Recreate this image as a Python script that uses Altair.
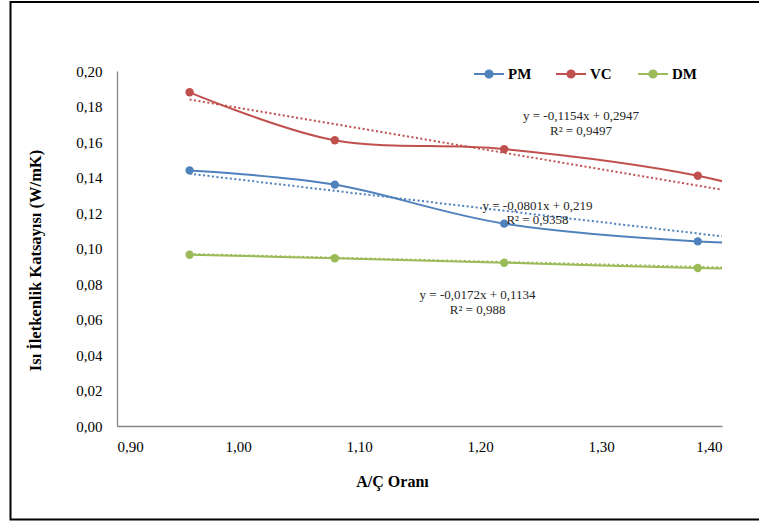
import altair as alt
import pandas as pd

# ---- data ----
series = ["PM", "VC", "DM"]
colors = ["#4F81BD", "#C0504D", "#9BBB59"]
x_values = [0.96, 1.08, 1.22, 1.38, 1.50]
pm_values = [0.144, 0.136, 0.114, 0.104, 0.103]
vc_values = [0.188, 0.161, 0.156, 0.141, 0.118]
dm_values = [0.0965, 0.0945, 0.092, 0.089, 0.0885]

slopes = [-0.0801, -0.1154, -0.0172]
intercepts = [0.219, 0.2947, 0.1134]
trend_x = [0.96, 1.40]

eq_labels = ["y = -0,0801x + 0,219", "y = -0,1154x + 0,2947", "y = -0,0172x + 0,1134"]
r2_labels = ["R² = 0,9358", "R² = 0,9497", "R² = 0,988"]

# annotation placement (data coordinates)
eq_pos_x = [1.2475, 1.2835, 1.198]
eq_pos_y = [0.1239, 0.1746, 0.0738]
r2_pos_y = [0.1161, 0.1662, 0.0654]

y_ticks = [round(i * 0.02, 2) for i in range(11)]
x_ticks = [0.9, 1.0, 1.1, 1.2, 1.3, 1.4]

# ---- tables ----
vals = {"PM": pm_values, "VC": vc_values, "DM": dm_values}
rows = []
for s in series:
    for x, y in zip(x_values, vals[s]):
        rows.append({"x": x, "y": y, "s": s})
df = pd.DataFrame(rows)

trows = []
for s, m, b in zip(series, slopes, intercepts):
    for x in trend_x:
        trows.append({"x": x, "y": m * x + b, "s": s})
tdf = pd.DataFrame(trows)

arows = []
for i in range(3):
    arows.append({"x": eq_pos_x[i], "y": eq_pos_y[i], "t": eq_labels[i]})
    arows.append({"x": eq_pos_x[i], "y": r2_pos_y[i], "t": r2_labels[i]})
adf = pd.DataFrame(arows)

FONT = "Liberation Serif"

xscale = alt.Scale(domain=[0.9, 1.4], nice=False, zero=False)
yscale = alt.Scale(domain=[0, 0.2], nice=False)
cscale = alt.Scale(domain=series, range=colors)

xaxis = alt.Axis(
    values=x_ticks, title="A/Ç Oranı", grid=False, ticks=False,
    labelExpr="replace(format(datum.value, '.2f'), '.', ',')",
    labelFont=FONT, labelFontSize=15, labelColor="#000000", labelPadding=13,
    titleFont=FONT, titleFontSize=16, titleFontWeight="bold", titleColor="#000000",
    titleX=275, titleY=60, titleBaseline="alphabetic", titleAlign="center",
    domainColor="#868686", domainWidth=1.3,
)
yaxis = alt.Axis(
    values=y_ticks, title="Isı İletkenlik Katsayısı (W/mK)", grid=False, ticks=False,
    labelExpr="replace(format(datum.value, '.2f'), '.', ',')",
    labelFont=FONT, labelFontSize=15, labelColor="#000000", labelPadding=15,
    titleFont=FONT, titleFontSize=16.5, titleFontWeight="bold", titleColor="#000000",
    titleAngle=270, titleX=-82, titleY=189, titleAlign="center", titleBaseline="middle",
    domainColor="#868686", domainWidth=1.3,
)

X = alt.X("x:Q", scale=xscale, axis=xaxis)
Y = alt.Y("y:Q", scale=yscale, axis=yaxis)

# line with a solid dot (concentric rings so a stroked symbol looks filled)
symbol_path = (
    "M-1,0H1"
    "M-0.24,0a0.24,0.24 0 1,0 0.48,0a0.24,0.24 0 1,0 -0.48,0"
    "M-0.15,0a0.15,0.15 0 1,0 0.3,0a0.15,0.15 0 1,0 -0.3,0"
    "M-0.06,0a0.06,0.06 0 1,0 0.12,0a0.06,0.06 0 1,0 -0.12,0"
)

legend = alt.Legend(
    title=None, orient="none", direction="horizontal", legendX=356, legendY=-13,
    symbolType=symbol_path, symbolSize=900, symbolStrokeWidth=2, symbolOpacity=1,
    labelFont=FONT, labelFontSize=15, labelFontWeight="bold", labelColor="#000000",
    labelOffset=3, columnPadding=19, gridAlign="all",
)

C = alt.Color("s:N", scale=cscale, legend=legend, sort=series)

lines = alt.Chart(df).mark_line(interpolate="cardinal", strokeWidth=2, clip=True).encode(
    x=X, y=Y, color=C, detail="s:N"
)
points = alt.Chart(df).mark_point(filled=True, size=70, opacity=1, clip=True).encode(
    x=X, y=Y, color=C
)
trends = alt.Chart(tdf).mark_line(strokeWidth=2, strokeDash=[2, 2.5], clip=True).encode(
    x=X, y=Y, color=C, detail="s:N"
)
texts = alt.Chart(adf).mark_text(font=FONT, fontSize=13, color="#262626", align="center", baseline="middle").encode(
    x=X, y=Y, text="t:N"
)
frame = alt.Chart(pd.DataFrame({"a": [0]})).mark_rect(fill=None, stroke="#000000", strokeWidth=2).encode(
    x=alt.value(-106.5), x2=alt.value(700), y=alt.value(-69), y2=alt.value(448.5)
)

chart = alt.layer(frame, trends, lines, points, texts).properties(
    width=605, height=355,
    autosize=alt.AutoSizeParams(type="none"),
    padding={"left": 117, "top": 71, "right": 37, "bottom": 96},
    background="white",
).configure_view(stroke=None)

chart.save("out.html", embed_options={"renderer": "svg", "actions": False})
